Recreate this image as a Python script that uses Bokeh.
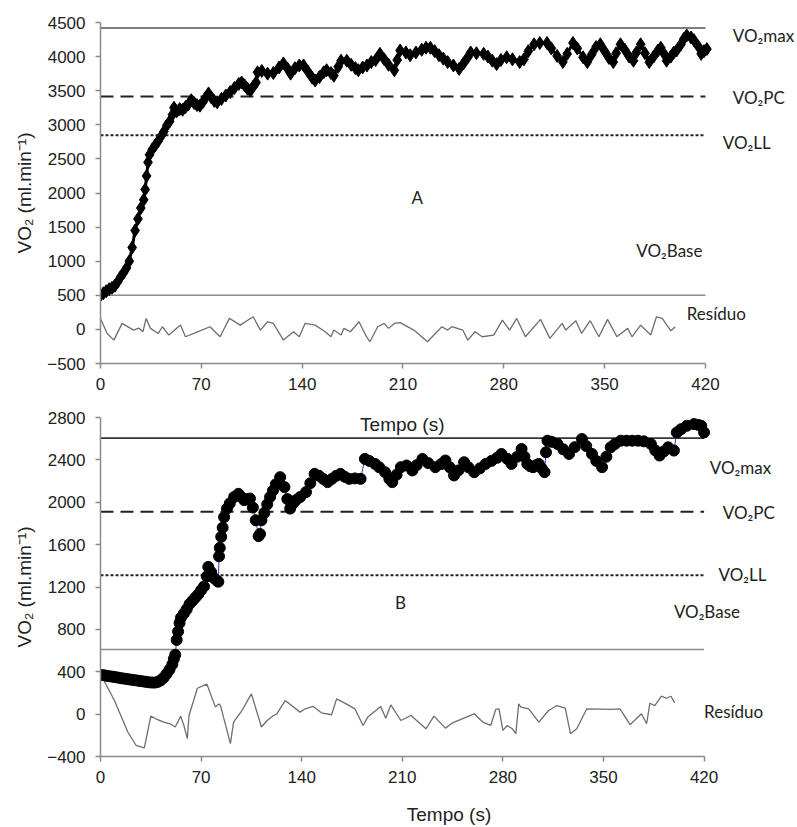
from bokeh.plotting import figure
from bokeh.layouts import column
from bokeh.models import Label, Range1d, FixedTicker
from bokeh.embed import file_html
from bokeh.resources import INLINE

# ---------------- Data: panel A ----------------
a_t = [0, 2, 4, 6, 8, 10, 12, 14, 16, 18, 20, 22, 24, 26, 28, 30, 31, 32, 33, 34, 36, 38, 40,
       42, 44, 46, 48, 50, 51, 53, 55, 57, 59, 61, 63, 65, 67, 69, 71, 73, 75, 77, 79, 81, 84,
       87, 90, 93, 96, 98, 100, 102, 104, 106, 108, 109, 112, 116, 120, 124, 127, 130, 132, 135,
       138, 141, 144, 147, 149, 152, 155, 157, 160, 162, 165, 167, 171, 174, 177, 179, 182, 185,
       188, 191, 194, 197, 200, 204, 206, 208, 212, 215, 219, 223, 226, 229, 232, 235, 238, 241,
       245, 249, 252, 255, 257, 261, 266, 269, 272, 275, 278, 282, 286, 291, 294, 297, 301, 305,
       310, 313, 317, 321, 324, 328, 331, 335, 338, 341, 344, 347, 350, 353, 356, 358, 361, 364,
       367, 370, 372, 375, 378, 381, 384, 387, 389, 391, 393, 396, 398, 400, 403, 405, 407, 410,
       412, 415, 417, 419, 421]
a_v = [500, 530, 560, 590, 610, 640, 700, 770, 830, 900, 1000, 1200, 1450, 1620, 1780, 1900, 2050,
       2250, 2450, 2560, 2640, 2700, 2760, 2830, 2900, 2990, 3050, 3150, 3250, 3200, 3230, 3220,
       3260, 3300, 3360, 3320, 3290, 3280, 3330, 3400, 3460, 3400, 3350, 3330, 3380, 3430, 3480,
       3540, 3600, 3620, 3580, 3530, 3500, 3560, 3620, 3770, 3790, 3750, 3760, 3840, 3900, 3820,
       3750, 3830, 3870, 3870, 3780, 3690, 3650, 3700, 3770, 3800, 3760, 3720, 3850, 3940, 3940,
       3880, 3830, 3800, 3840, 3870, 3920, 3950, 4040, 3960, 3880, 3800, 3950, 4090, 4060, 4020,
       4060, 4100, 4130, 4130, 4080, 4020, 3970, 3920, 3870, 3820, 3900, 3990, 4060, 4050, 4040,
       4000, 3940, 3890, 3950, 3990, 3960, 3920, 3960, 4080, 4180, 4200, 4200, 4120, 4010, 3920,
       4040, 4200, 4120, 3990, 3920, 4030, 4140, 4180, 4080, 3980, 3920, 4050, 4180, 4100, 4000,
       3940, 4060, 4180, 4050, 3920, 4000, 4090, 4130, 4050, 3940, 4000, 4060, 4090, 4180, 4260,
       4310, 4280, 4240, 4150, 4040, 4080, 4110]

a_res_t = [0, 4.6, 9.3, 15, 23, 26.6, 29.4, 31.7, 34.7, 40, 43, 47.4, 55.5, 59, 64.8, 76, 83, 89.5,
           97, 106, 111, 116, 120, 127, 134, 138, 142, 149, 156, 160, 162, 167, 169, 173.5, 179.5,
           184, 187, 192.5, 197, 200, 204, 208, 217.5, 227, 237, 241, 244, 251.5, 255, 260, 265,
           273, 279, 284, 289, 295, 305.5, 312, 320.5, 323, 330, 334, 340, 346, 352, 358.5, 366,
           369, 375, 382, 386, 390, 396, 399]
a_res_v = [161, -59, -157, 88, -10, 19, -35, 161, 15, -59, 39, -83, 63, -108, -59, 39, -108, 161,
           63, 185, -10, 112, 88, -157, -35, -108, 88, 63, -35, -108, -10, -83, 15, -35, 112,
           -83, -181, 39, 88, 15, 88, 100, -10, -181, 39, -10, 39, -10, -157, -35, -108,
           -83, 137, -10, 161, -108, 147, -132, 88, -10, 127, -59, 127, -108, 147, -108, 15,
           -108, 63, -83, 185, 161, -20, 39]

# ---------------- Data: panel B ----------------
b_t = [0, 2, 4, 6, 8, 10, 12, 14, 16, 18, 20, 22, 24, 26, 28, 30, 32, 34, 36, 38, 40, 42, 44, 46,
       48, 50, 51, 52, 53, 54, 55, 56, 58, 60, 62, 64, 66, 68, 70, 72, 74, 75, 77, 79, 81, 82,
       82.5, 83, 84, 85, 86, 88, 90, 93, 96, 98, 100, 102, 104, 106, 108, 110, 111, 112, 114,
       116, 118, 120, 122, 125, 128, 130, 132, 134, 136, 139, 143, 146, 149, 152, 155, 158, 161,
       164, 167, 170, 173, 177, 181, 184, 187, 191, 194, 198, 201, 203, 206, 209, 213, 217, 220,
       224, 228, 233, 237, 240, 243, 246, 249, 253, 256, 260, 264, 268, 272, 276, 279, 283, 286,
       290, 293, 295, 297, 299, 301, 303, 305, 307, 309, 310, 311, 314, 318, 322, 326, 330, 335,
       338, 342, 345, 349, 352, 355, 358, 362, 366, 370, 374, 378, 383, 386, 389, 392, 395, 399,
       401, 404, 408, 413, 416, 418, 420]
b_v = [370, 368, 362, 358, 354, 350, 345, 340, 336, 332, 328, 324, 320, 316, 312, 308, 304, 300,
       298, 298, 305, 320, 345, 380, 420, 470, 520, 560, 700, 780, 860, 910, 950, 990, 1040, 1070,
       1100, 1130, 1170, 1205, 1300, 1390, 1340, 1283, 1260, 1250, 1490, 1570, 1674, 1760, 1860,
       1940, 1990, 2050, 2080, 2050, 2020, 2030, 2035, 1950, 1830, 1680, 1700, 1830, 1900, 1980,
       2050, 2110, 2170, 2237, 2143, 2030, 1940, 1990, 2020, 2050, 2096, 2180, 2268, 2250, 2220,
       2190, 2220, 2250, 2268, 2240, 2221, 2225, 2221, 2409, 2390, 2362, 2330, 2284, 2220, 2190,
       2260, 2331, 2347, 2300, 2350, 2409, 2370, 2331, 2360, 2394, 2330, 2253, 2300, 2378, 2330,
       2284, 2320, 2362, 2390, 2420, 2456, 2410, 2362, 2430, 2503, 2430, 2362, 2340, 2331, 2350,
       2362, 2320, 2284, 2472, 2581, 2570, 2550, 2500, 2456, 2520, 2597, 2530, 2456, 2390, 2331,
       2430, 2519, 2550, 2581, 2581, 2581, 2581, 2575, 2550, 2490, 2441, 2480, 2519, 2488, 2659,
       2690, 2722, 2738, 2730, 2722, 2659]

b_res_t = [0, 9.7, 19, 24.7, 30.5, 35, 38.5, 44, 48.4, 52, 55.8, 58, 60.4, 61.6, 67.4, 74, 80, 82.3,
           83.5, 90.4, 92.6, 98.4, 105, 112, 116, 120.4, 122.6, 128.5, 138.9, 142.4, 148, 153.7,
           160.8, 164.3, 171, 177, 182.7, 186, 195, 198.5, 202, 209, 216, 226.5, 232, 240, 245,
           260, 266, 271.5, 275, 277.3, 280, 283, 286.5, 289, 291, 292.5, 298, 305, 311.8, 317.6,
           323.4, 327, 331.4, 338.4, 355.7, 361.5, 368.5, 376.4, 380, 382.3, 385.7, 390.3, 393.8,
           397, 399.5]
b_res_v = [378, 128, -169, -294, -319, -19, -44, -75, -91, -122, -19, -107, -232, -13, 244, 284, 66,
           97, 81, -279, -75, 34, 191, -122, -60, -13, 0, 128, 19, 50, 72, 12, -6, 144, 97, 50,
           -107, -28, 72, -38, 87, -60, -13, -138, -19, -132, -82, 3, -75, -107, 44, 50, -154,
           -107, -138, -185, 97, 66, 50, -75, 34, 81, 56, -185, -138, 50, 44, 50, -100, 3, -91,
           103, 81, 169, 150, 169, 106]

x_ticks = [0, 70, 140, 210, 280, 350, 420]
a_y_ticks = [-500, 0, 500, 1000, 1500, 2000, 2500, 3000, 3500, 4000, 4500]
b_y_ticks = [-400, 0, 400, 800, 1200, 1600, 2000, 2400, 2800]

# reference levels
a_levels = {"max": 4420, "pc": 3415, "ll": 2845, "base": 500}
b_levels = {"max": 2605, "pc": 1910, "ll": 1310, "base": 610}

# label anchors (time, value)
a_labels = [("VO₂max", 439, 4310), ("VO₂PC", 439, 3400), ("VO₂LL", 432, 2740), ("A", 216, 1934),
            ("VO₂Base", 372, 1157), ("Resíduo", 407, 229)]
b_labels = [("VO₂max", 424, 2331), ("VO₂PC", 433, 1899), ("VO₂LL", 430, 1314), ("B", 205, 1051),
            ("VO₂Base", 399, 970), ("Resíduo", 420, 23)]

TICK_FONT = "Liberation Sans"
LABEL_FONT = "Lato"
AXIS_GRAY = "#8a8a8a"
X0, X1 = x_ticks[0], x_ticks[-1]


def style(p, yticks, ylabel):
    p.outline_line_color = None
    p.xgrid.visible = False
    p.ygrid.visible = False
    p.background_fill_color = "white"
    p.border_fill_color = "white"
    for ax in (p.xaxis[0], p.yaxis[0]):
        ax.axis_line_color = AXIS_GRAY
        ax.axis_line_width = 1.5
        ax.major_tick_line_color = AXIS_GRAY
        ax.major_tick_line_width = 1.5
        ax.major_tick_out = 5
        ax.major_tick_in = 0
        ax.minor_tick_line_color = None
        ax.major_label_text_font = TICK_FONT
        ax.major_label_text_font_size = "17px"
        ax.major_label_text_color = "#222222"
    p.xaxis[0].ticker = FixedTicker(ticks=x_ticks)
    p.xaxis[0].bounds = (X0, X1)
    p.yaxis[0].ticker = FixedTicker(ticks=yticks)
    p.yaxis[0].bounds = (yticks[0], yticks[-1])
    p.xaxis[0].major_label_standoff = 9
    p.yaxis[0].major_label_standoff = 10
    p.yaxis[0].axis_label = ylabel
    p.yaxis[0].axis_label_text_font = TICK_FONT
    p.yaxis[0].axis_label_text_font_size = "19px"
    p.yaxis[0].axis_label_text_font_style = "normal"
    p.yaxis[0].axis_label_text_color = "#222222"
    p.yaxis[0].axis_label_standoff = 9


def add_levels(p, lv, max_color, max_width):
    p.segment(x0=[X0], y0=[lv["max"]], x1=[X1], y1=[lv["max"]], line_color=max_color,
              line_width=max_width)
    p.segment(x0=[X0], y0=[lv["pc"]], x1=[X1], y1=[lv["pc"]], line_color="#222222",
              line_width=2, line_dash="13 7")
    p.segment(x0=[X0], y0=[lv["ll"]], x1=[X1], y1=[lv["ll"]], line_color="#222222",
              line_width=2, line_dash="3 2")
    p.segment(x0=[X0], y0=[lv["base"]], x1=[X1], y1=[lv["base"]], line_color="#8a8a8a",
              line_width=1.5)


def add_labels(p, labels):
    for txt, x, y in labels:
        p.add_layout(Label(x=x, y=y, text=txt, text_font=LABEL_FONT, text_font_size="17px",
                           text_color="#222222", text_baseline="middle", text_align="left"))


ylab = "VO₂ (ml.min⁻¹)"

# ---------------- Panel A ----------------
p1 = figure(width=797, height=405, x_range=Range1d(0, 483.9), y_range=Range1d(-500, 4500),
            output_backend="svg", toolbar_location=None,
            min_border_left=100, min_border_right=0, min_border_top=22, min_border_bottom=42)
style(p1, a_y_ticks, ylab)
add_levels(p1, a_levels, "#555555", 1.6)
p1.line(a_res_t, a_res_v, line_color="#6e6e6e", line_width=1.3)
p1.line(a_t, a_v, line_color="black", line_width=3)
p1.scatter(a_t, a_v, marker="diamond", size=13, color="black")
add_labels(p1, a_labels)

# ---------------- Panel B ----------------
p2 = figure(width=797, height=422, x_range=Range1d(0, 485.0), y_range=Range1d(-400, 2800),
            output_backend="svg", toolbar_location=None,
            min_border_left=96, min_border_right=0, min_border_top=12, min_border_bottom=69)
style(p2, b_y_ticks, ylab)
p2.xaxis[0].axis_label = "Tempo (s)"
p2.xaxis[0].axis_label_text_font = TICK_FONT
p2.xaxis[0].axis_label_text_font_size = "19px"
p2.xaxis[0].axis_label_text_font_style = "normal"
p2.xaxis[0].axis_label_text_color = "#222222"
p2.xaxis[0].axis_label_standoff = 18
add_levels(p2, b_levels, "#333333", 1.6)
p2.line(b_res_t, b_res_v, line_color="#6e6e6e", line_width=1.3)
p2.line(b_t, b_v, line_color="#3344aa", line_width=1)
p2.scatter(b_t, b_v, marker="circle", size=11, color="black")
add_labels(p2, b_labels)
# x-axis title of panel A, drawn where the original places it
p2.add_layout(Label(x=210, y=2737, text="Tempo (s)", text_font=TICK_FONT, text_font_size="19px",
                    text_color="#222222", text_baseline="middle", text_align="center"))

layout = column(p1, p2, spacing=0)
open("out.html", "w").write(file_html(layout, INLINE))
